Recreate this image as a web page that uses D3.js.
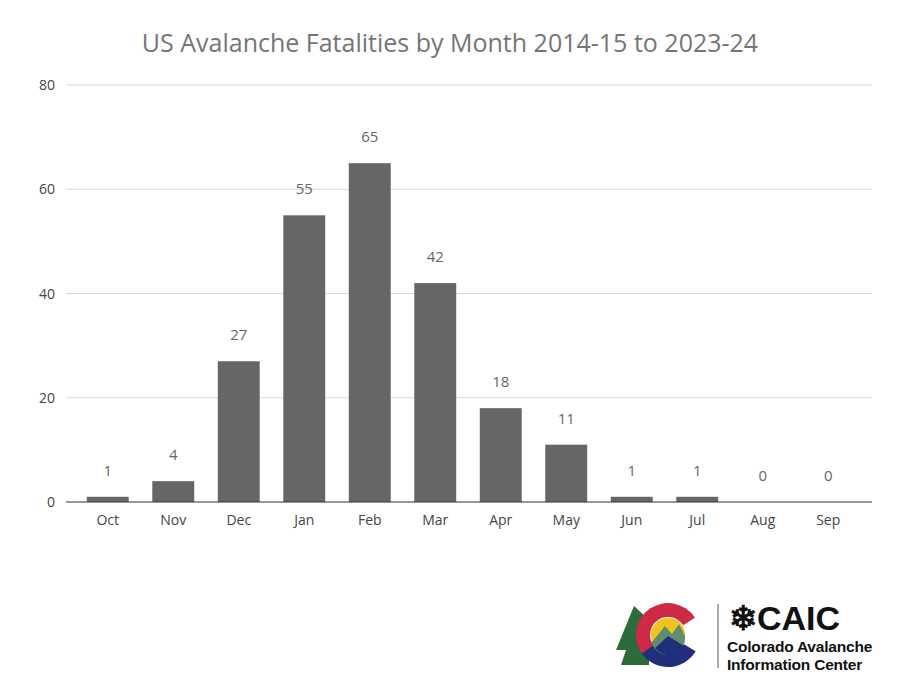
<!DOCTYPE html>
<html><head><meta charset="utf-8">
<script src="https://cdn.jsdelivr.net/npm/d3@7"></script>
<style>body{margin:0;background:#fff}</style></head>
<body><svg id="c" width="900" height="675"></svg>
<script>
const months = ["Oct","Nov","Dec","Jan","Feb","Mar","Apr","May","Jun","Jul","Aug","Sep"];
const fatalities = [1,4,27,55,65,42,18,11,1,1,0,0];
const yTicks = [0,20,40,60,80];

const svg = d3.select("#c");
const font = "'Open Sans', 'Noto Sans', sans-serif";
const x = d3.scaleBand().domain(months).range([75,861]).paddingInner(0.36).paddingOuter(0.18);
const y = d3.scaleLinear().domain([0,80]).range([502,85]);

svg.append("text").attr("x",450).attr("y",52).attr("text-anchor","middle")
  .attr("font-family",font).attr("font-size",25).attr("fill","#757575")
  .text("US Avalanche Fatalities by Month 2014-15 to 2023-24");

svg.selectAll(".g").data(yTicks.slice(1)).enter().append("line")
  .attr("x1",66).attr("x2",872).attr("y1",d=>y(d)).attr("y2",d=>y(d))
  .attr("stroke","#d9d9d9").attr("stroke-width",1);
svg.selectAll(".yl").data(yTicks).enter().append("text")
  .attr("x",55).attr("y",d=>y(d)+5).attr("text-anchor","end")
  .attr("font-family",font).attr("font-size",14).attr("fill","#444").text(d=>d);

svg.selectAll(".b").data(fatalities).enter().append("rect")
  .attr("x",(d,i)=>x(months[i])).attr("width",x.bandwidth())
  .attr("y",d=>y(d)).attr("height",d=>y(0)-y(d)).attr("fill","#666666");
svg.selectAll(".v").data(fatalities).enter().append("text")
  .attr("x",(d,i)=>x(months[i])+x.bandwidth()/2).attr("y",d=>y(d)-21)
  .attr("text-anchor","middle").attr("font-family",font).attr("font-size",15).attr("fill","#666")
  .text(d=>d);
svg.append("line").attr("x1",66).attr("x2",872).attr("y1",y(0)).attr("y2",y(0))
  .attr("stroke","#333").attr("stroke-width",1.2);
svg.selectAll(".xl").data(months).enter().append("text")
  .attr("x",d=>x(d)+x.bandwidth()/2).attr("y",525).attr("text-anchor","middle")
  .attr("font-family",font).attr("font-size",14).attr("fill","#444").text(d=>d);

// logo
const L = svg.append("g");
L.append("path").attr("d","M634,606 L616,650 L626,650 L621,665 L649,665 L649,620 Z").attr("fill","#2e6b3a");
const arc = d3.arc();
L.append("path").attr("transform","translate(668,635)")
  .attr("d",arc({innerRadius:18,outerRadius:32,startAngle:-2.2,endAngle:1.0})).attr("fill","#cf2a45");
L.append("path").attr("transform","translate(668,635)")
  .attr("d",arc({innerRadius:18,outerRadius:32,startAngle:2.1,endAngle:4.1})).attr("fill","#1f2f7a");
L.append("circle").attr("cx",668).attr("cy",635).attr("r",17).attr("fill","#f4c21b");
L.append("path").attr("d","M652,642 L665,626 L672,634 L679,624 L685,636 A17,17 0 0 1 651,640 Z").attr("fill","#5f8f6a");
L.append("path").attr("d","M655,648 L668,636 L684,646 A17,17 0 0 1 655,648 Z").attr("fill","#1f2f7a");
L.append("line").attr("x1",718).attr("x2",718).attr("y1",604).attr("y2",668).attr("stroke","#555").attr("stroke-width",1);
L.append("text").attr("x",729).attr("y",630).attr("font-family","'Liberation Sans',Arial,sans-serif")
  .attr("font-weight","bold").attr("font-size",34).attr("fill","#111").text("❄CAIC");
L.append("text").attr("x",727).attr("y",652).attr("font-family","'Liberation Sans',Arial,sans-serif")
  .attr("font-weight","bold").attr("font-size",15.5).attr("letter-spacing",-0.2).attr("fill","#111").text("Colorado Avalanche");
L.append("text").attr("x",727).attr("y",670).attr("font-family","'Liberation Sans',Arial,sans-serif")
  .attr("font-weight","bold").attr("font-size",15.5).attr("letter-spacing",-0.2).attr("fill","#111").text("Information Center");
</script></body></html>
